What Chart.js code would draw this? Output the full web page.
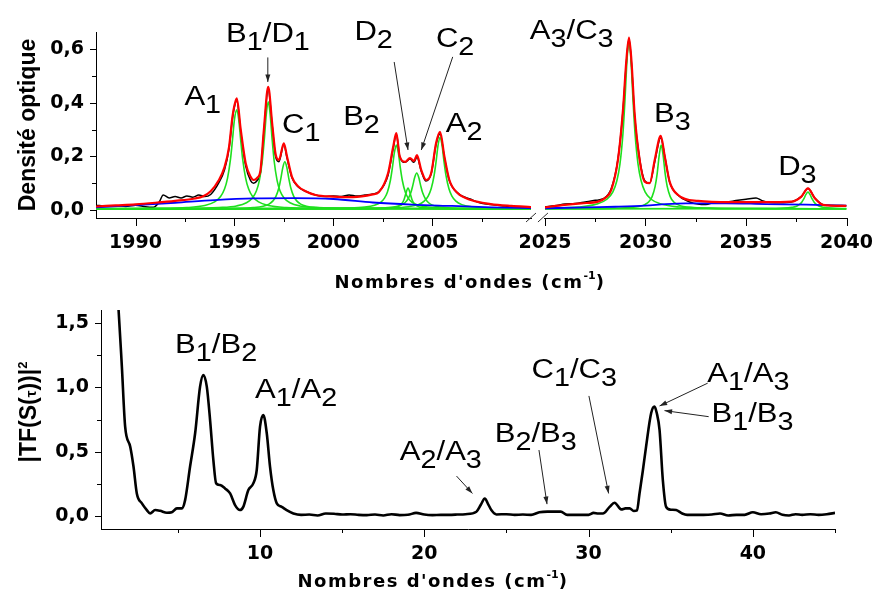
<!DOCTYPE html>
<html><head><meta charset="utf-8">
<script src="https://cdn.jsdelivr.net/npm/chart.js@4.4.1/dist/chart.umd.min.js"></script>
<style>
html,body{margin:0;padding:0;background:#fff;}
#page{position:relative;width:879px;height:590px;overflow:hidden;background:#fff;}
.box{position:absolute;left:0;width:879px;}
.ttl{position:absolute;white-space:nowrap;color:#000;}
.xt{font:bold 18px "DejaVu Sans";letter-spacing:1.5px;line-height:18px;transform:translateX(-50%);}
.yt{font:bold 23px "Liberation Sans";line-height:24px;transform:translate(-50%,-50%) rotate(-90deg);}
.sup{position:relative;top:-9px;font-size:11px;letter-spacing:0;}
</style></head>
<body><div id="page">
<div class="box" style="top:0;height:290px"><canvas id="c1"></canvas></div>
<div class="box" style="top:290px;height:300px"><canvas id="c2"></canvas></div>
<div class="ttl yt" style="left:27px;top:125px">Densité optique</div>
<div class="ttl xt" style="left:470px;top:273px">Nombres d'ondes (cm<span class="sup">-1</span>)</div>
<div class="ttl yt" style="left:30px;top:412px">|TF(S(<span style="font-size:15px">τ</span>))|<span style="position:relative;top:-9px;font-size:13px">2</span></div>
<div class="ttl xt" style="left:433px;top:572px">Nombres d'ondes (cm<span class="sup">-1</span>)</div>
</div>
<script>
// ---------- TOP PANEL DATA (wavenumber, optical density) ----------
const blackLeft = [[1988,0.018],[1988.5,0.014],[1989,0.016],[1989.5,0.013],[1990,0.018],[1990.5,0.012],[1990.9,0.01],[1991.2,0.03],[1991.4,0.056],[1991.7,0.045],[1992,0.05],[1992.3,0.045],[1992.6,0.052],[1992.9,0.048],[1993.2,0.056],[1993.5,0.05],[1993.8,0.058],[1994.2,0.1],[1994.5,0.15],[1994.73,0.23],[1994.9,0.34],[1995.0,0.385],[1995.12,0.41],[1995.32,0.29],[1995.57,0.165],[1995.82,0.11],[1995.97,0.1],[1996.15,0.11],[1996.32,0.14],[1996.49,0.29],[1996.71,0.45],[1996.91,0.315],[1997.08,0.2],[1997.25,0.18],[1997.5,0.245],[1997.66,0.195],[1997.91,0.12],[1998.2,0.088],[1998.6,0.07],[1999.1,0.056],[1999.6,0.05],[2000,0.052],[2000.4,0.05],[2000.8,0.056],[2001.2,0.052],[2001.6,0.056],[2002,0.06],[2002.3,0.068],[2002.77,0.13],[2003.03,0.23],[2003.19,0.283],[2003.36,0.2],[2003.63,0.178],[2003.88,0.19],[2004.08,0.178],[2004.23,0.198],[2004.45,0.145],[2004.68,0.108],[2004.95,0.135],[2005.2,0.245],[2005.4,0.285],[2005.62,0.195],[2005.87,0.11],[2006.29,0.063],[2006.96,0.04],[2007.5,0.025],[2007.96,0.02],[2008.5,0.016],[2009,0.012],[2009.5,0.01],[2010,0.01]];
const redLeft = [[1988,0.013],[1989,0.017],[1990,0.021],[1991,0.027],[1992,0.034],[1993,0.043],[1993.4,0.05],[1993.8,0.07],[1994.2,0.11],[1994.5,0.16],[1994.73,0.236],[1994.9,0.348],[1995.0,0.39],[1995.12,0.417],[1995.32,0.3],[1995.57,0.175],[1995.82,0.124],[1995.97,0.112],[1996.15,0.12],[1996.32,0.149],[1996.49,0.3],[1996.71,0.46],[1996.91,0.323],[1997.08,0.21],[1997.25,0.187],[1997.5,0.249],[1997.66,0.2],[1997.91,0.124],[1998.2,0.09],[1998.6,0.07],[1999.1,0.056],[2000,0.05],[2001,0.048],[2002,0.058],[2002.3,0.066],[2002.77,0.137],[2003.03,0.236],[2003.19,0.287],[2003.36,0.2],[2003.63,0.18],[2003.88,0.194],[2004.08,0.183],[2004.23,0.205],[2004.45,0.149],[2004.7,0.112],[2004.95,0.137],[2005.2,0.25],[2005.4,0.292],[2005.62,0.2],[2005.87,0.112],[2006.29,0.063],[2006.96,0.037],[2007.96,0.022],[2009,0.015],[2010,0.011]];
const blueLeft = [[1988,0.01],[1990,0.018],[1992,0.027],[1994,0.037],[1996,0.043],[1998,0.044],[2000,0.041],[2002,0.028],[2004,0.02],[2006,0.015],[2008,0.01],[2010,0.007]];
const greenA1 = [[1988,0.005],[1991.1,0.006],[1992.6,0.009],[1993.5,0.017],[1994.0,0.03],[1994.3,0.05],[1994.5,0.078],[1994.65,0.118],[1994.8,0.189],[1994.9,0.26],[1995.0,0.337],[1995.12,0.374],[1995.22,0.337],[1995.32,0.26],[1995.42,0.189],[1995.57,0.118],[1995.72,0.078],[1995.92,0.05],[1996.22,0.03],[1996.72,0.017],[1997.62,0.009],[1999.12,0.006],[2003,0.005],[2010,0.004]];
const greenB1 = [[1988,0.005],[1992.71,0.006],[1994.21,0.009],[1995.11,0.015],[1995.61,0.027],[1995.91,0.045],[1996.11,0.071],[1996.26,0.11],[1996.41,0.183],[1996.51,0.262],[1996.61,0.356],[1996.71,0.404],[1996.81,0.356],[1996.91,0.262],[1997.01,0.183],[1997.16,0.11],[1997.31,0.071],[1997.51,0.045],[1997.81,0.027],[1998.31,0.015],[1999.21,0.009],[2000.71,0.006],[2010,0.004]];
const greenC1 = [[1988,0.004],[1993.55,0.005],[1995.05,0.006],[1995.95,0.009],[1996.45,0.014],[1996.75,0.022],[1996.95,0.034],[1997.1,0.051],[1997.25,0.083],[1997.35,0.118],[1997.45,0.159],[1997.55,0.18],[1997.65,0.159],[1997.75,0.118],[1997.85,0.083],[1998.0,0.051],[1998.15,0.034],[1998.35,0.022],[1998.65,0.014],[1999.15,0.009],[2000.05,0.006],[2001.55,0.005],[2010,0.004]];
const greenB2 = [[1988,0.004],[1999.19,0.005],[2000.69,0.007],[2001.59,0.011],[2002.09,0.018],[2002.39,0.028],[2002.59,0.044],[2002.74,0.067],[2002.89,0.111],[2002.99,0.158],[2003.09,0.214],[2003.19,0.243],[2003.29,0.214],[2003.39,0.158],[2003.49,0.111],[2003.64,0.067],[2003.79,0.044],[2003.99,0.028],[2004.29,0.018],[2004.79,0.011],[2005.69,0.007],[2007.19,0.005],[2010,0.004]];
const greenD2 = [[1988,0.004],[2001.78,0.005],[2002.58,0.006],[2002.98,0.008],[2003.18,0.01],[2003.33,0.015],[2003.48,0.025],[2003.58,0.039],[2003.68,0.064],[2003.78,0.082],[2003.88,0.064],[2003.98,0.039],[2004.08,0.025],[2004.23,0.015],[2004.38,0.01],[2004.58,0.008],[2004.98,0.006],[2005.78,0.005],[2010,0.004]];
const greenC2 = [[1988,0.004],[2000.22,0.005],[2001.72,0.006],[2002.62,0.008],[2003.12,0.012],[2003.42,0.018],[2003.62,0.027],[2003.77,0.04],[2003.92,0.064],[2004.02,0.091],[2004.12,0.122],[2004.22,0.138],[2004.32,0.122],[2004.42,0.091],[2004.52,0.064],[2004.67,0.04],[2004.82,0.027],[2005.02,0.018],[2005.32,0.012],[2005.82,0.008],[2006.72,0.006],[2008.22,0.005],[2010,0.004]];
const greenA2 = [[1988,0.004],[2001.4,0.005],[2002.9,0.007],[2003.8,0.012],[2004.3,0.02],[2004.6,0.033],[2004.8,0.052],[2004.95,0.079],[2005.1,0.129],[2005.2,0.181],[2005.3,0.242],[2005.4,0.272],[2005.5,0.242],[2005.6,0.181],[2005.7,0.129],[2005.85,0.079],[2006.0,0.052],[2006.2,0.033],[2006.5,0.02],[2007.0,0.012],[2007.9,0.007],[2009.4,0.005],[2010,0.004]];
const blackRight = [[2025,0.012],[2025.5,0.016],[2026,0.022],[2026.5,0.024],[2027,0.03],[2027.5,0.036],[2027.9,0.042],[2028.3,0.08],[2028.63,0.19],[2028.88,0.37],[2029.05,0.55],[2029.18,0.64],[2029.3,0.55],[2029.46,0.35],[2029.71,0.19],[2029.96,0.11],[2030.21,0.1],[2030.46,0.18],[2030.76,0.27],[2030.96,0.2],[2031.2,0.105],[2031.62,0.055],[2032.2,0.03],[2032.6,0.022],[2033,0.02],[2033.5,0.03],[2034,0.03],[2034.5,0.035],[2035,0.04],[2035.5,0.045],[2035.8,0.035],[2036.2,0.028],[2036.7,0.027],[2037.25,0.03],[2037.75,0.05],[2038.08,0.08],[2038.42,0.045],[2038.83,0.02],[2039.3,0.017],[2040,0.016]];
const redRight = [[2025,0.01],[2025.98,0.019],[2026.8,0.025],[2027.64,0.031],[2028.0,0.045],[2028.3,0.075],[2028.63,0.187],[2028.88,0.373],[2029.05,0.56],[2029.18,0.644],[2029.3,0.56],[2029.46,0.36],[2029.71,0.187],[2029.96,0.106],[2030.21,0.1],[2030.46,0.187],[2030.76,0.277],[2030.96,0.2],[2031.2,0.106],[2031.62,0.056],[2032.61,0.034],[2034.27,0.029],[2035.93,0.029],[2037.25,0.031],[2037.75,0.05],[2038.08,0.081],[2038.42,0.044],[2038.83,0.019],[2040,0.015]];
const blueRight = [[2025,0.006],[2027,0.01],[2028.5,0.012],[2030,0.016],[2031,0.022],[2032,0.025],[2034,0.025],[2036,0.022],[2038,0.02],[2040,0.016]];
const greenA3 = [[2025,0.007],[2026.68,0.011],[2027.58,0.022],[2028.08,0.04],[2028.38,0.068],[2028.58,0.11],[2028.73,0.171],[2028.88,0.286],[2028.98,0.411],[2029.08,0.558],[2029.18,0.634],[2029.28,0.558],[2029.38,0.411],[2029.48,0.286],[2029.63,0.171],[2029.78,0.11],[2029.98,0.068],[2030.28,0.04],[2030.78,0.022],[2031.68,0.011],[2033.18,0.007],[2036,0.005],[2040,0.004]];
const greenB3 = [[2025,0.004],[2026.78,0.005],[2028.28,0.006],[2029.18,0.009],[2029.68,0.013],[2029.98,0.021],[2030.18,0.032],[2030.33,0.05],[2030.48,0.088],[2030.58,0.135],[2030.68,0.202],[2030.78,0.243],[2030.88,0.202],[2030.98,0.135],[2031.08,0.088],[2031.23,0.05],[2031.38,0.032],[2031.58,0.021],[2031.88,0.013],[2032.38,0.009],[2033.28,0.006],[2034.78,0.005],[2040,0.004]];
const greenD3 = [[2025,0.004],[2036.08,0.005],[2036.88,0.007],[2037.28,0.01],[2037.48,0.013],[2037.63,0.019],[2037.78,0.03],[2037.88,0.042],[2037.98,0.058],[2038.08,0.067],[2038.18,0.058],[2038.28,0.042],[2038.38,0.03],[2038.53,0.019],[2038.68,0.013],[2038.88,0.01],[2039.28,0.007],[2040,0.005]];

// ---------- BOTTOM PANEL DATA ----------
const bottomX = [1.3,1.39,1.59,1.79,2.1,2.3,2.5,2.81,3.11,3.31,3.62,3.92,4.33,4.63,4.94,5.24,5.44,5.74,6.05,6.35,6.55,6.76,6.96,7.16,7.33,7.57,7.87,8.18,8.48,8.78,8.98,9.29,9.59,9.8,10.0,10.2,10.41,10.61,10.81,11.02,11.32,11.62,12.03,12.5,13,13.5,14,14.5,15,15.5,16,16.5,17,17.5,18,18.5,19,19.5,20,20.5,21,21.5,22,22.5,23.17,23.45,23.68,23.9,24.08,24.39,25,25.5,26,26.5,27,27.5,28,28.3,28.7,29,29.5,30,30.3,30.6,30.87,31.28,31.58,31.99,32.25,32.5,32.75,32.95,33.1,33.3,33.5,33.81,34.01,34.15,34.32,34.52,34.72,35.0,35.33,35.7,36,36.5,37,37.5,38,38.5,39,39.5,40,40.5,41,41.4,41.8,42.2,42.6,43,43.5,44,44.5,45];
const bottomY = [1.75,1.6,1.161,0.694,0.539,0.383,0.176,0.099,0.047,0.021,0.047,0.041,0.026,0.03,0.06,0.06,0.124,0.383,0.643,1.005,1.096,1.005,0.746,0.435,0.254,0.241,0.215,0.176,0.086,0.047,0.072,0.202,0.254,0.358,0.694,0.785,0.643,0.383,0.202,0.099,0.072,0.047,0.021,0.01,0.012,0.005,0.02,0.018,0.012,0.015,0.01,0.008,0.012,0.005,0.015,0.008,0.01,0.025,0.012,0.008,0.01,0.01,0.012,0.015,0.034,0.09,0.137,0.09,0.047,0.013,0.015,0.01,0.012,0.01,0.03,0.035,0.035,0.035,0.01,0.01,0.01,0.01,0.025,0.02,0.02,0.072,0.104,0.052,0.06,0.06,0.04,0.045,0.176,0.35,0.54,0.8,0.85,0.8,0.669,0.28,0.072,0.05,0.047,0.02,0.01,0.01,0.01,0.012,0.02,0.005,0.01,0.01,0.03,0.015,0.02,0.03,0.01,0.005,0.015,0.01,0.015,0.01,0.015,0.025];

// ---------- TICKS ----------
const topXTicksLeft = [1990,1995,2000,2005];
const topXMinorLeft = [1992.5,1997.5,2002.5,2007.5];
const topXTicksRight = [2025,2030,2035,2040];
const topXMinorRight = [2027.5,2032.5,2037.5];
const topYTicks = [0,0.2,0.4,0.6];
const topYMinor = [0.1,0.3,0.5];
const botXTicks = [10,20,30,40];
const botXMinor = [5,15,25,35,45];
const botYTicks = [0,0.5,1,1.5];
const botYMinor = [0.25,0.75,1.25];

// ---------- ANNOTATIONS (data coordinates) ----------
const topLabels = [
  {text:'A1', axis:'xL', x:1992.47, y:0.392},
  {text:'B1/D1', axis:'xL', x:1994.58, y:0.627},
  {text:'C1', axis:'xL', x:1997.41, y:0.287},
  {text:'B2', axis:'xL', x:2000.5, y:0.317},
  {text:'D2', axis:'xL', x:2001.07, y:0.634},
  {text:'C2', axis:'xL', x:2005.19, y:0.608},
  {text:'A2', axis:'xL', x:2005.69, y:0.291},
  {text:'A3/C3', axis:'xR', x:2024.25, y:0.638},
  {text:'B3', axis:'xR', x:2030.42, y:0.328},
  {text:'D3', axis:'xR', x:2036.6, y:0.13}
];
const topArrows = [
  {axis:'xL', x1:1996.69, y1:0.57, x2:1996.69, y2:0.478},
  {axis:'xL', x1:2003.08, y1:0.553, x2:2003.78, y2:0.224},
  {axis:'xL', x1:2006.04, y1:0.572, x2:2004.45, y2:0.224}
];
const botLabels = [
  {text:'B1/B2', axis:'x', x:4.83, y:1.27},
  {text:'A1/A2', axis:'x', x:9.7, y:0.918},
  {text:'A2/A3', axis:'x', x:18.51, y:0.435},
  {text:'B2/B3', axis:'x', x:24.29, y:0.575},
  {text:'C1/C3', axis:'x', x:26.53, y:1.073},
  {text:'A1/A3', axis:'x', x:37.23, y:1.042},
  {text:'B1/B3', axis:'x', x:37.48, y:0.731}
];
const botArrows = [
  {axis:'x', x1:21.96, y1:0.311, x2:22.93, y2:0.176},
  {axis:'x', x1:26.98, y1:0.513, x2:27.47, y2:0.093},
  {axis:'x', x1:30.02, y1:0.933, x2:31.22, y2:0.176},
  {axis:'x', x1:37.25, y1:1.032, x2:34.32, y2:0.855},
  {axis:'x', x1:37.31, y1:0.772, x2:34.62, y2:0.819}
];

// ---------- helpers ----------
const RED='#ff0000', GREEN='#1ee01e', BLUE='#0000ff', BLACK='#000000';
const tickFont = {family:'DejaVu Sans', size:19, weight:'bold'};
const comma = v => Number(v).toFixed(1).replace('.', ',');
const pts = arr => arr.map(p => ({x:p[0], y:p[1]}));
function ds(arr, axis, color, w){
  return {data:pts(arr), xAxisID:axis, borderColor:color, borderWidth:w, pointRadius:0,
    cubicInterpolationMode:'monotone', fill:false, borderJoinStyle:'round'};
}
function drawLabel(ctx, text, px, py){
  ctx.save();
  ctx.translate(px, py);
  ctx.scale(1.15, 1);
  ctx.fillStyle = '#000';
  ctx.textBaseline = 'alphabetic';
  ctx.textAlign = 'left';
  let x = 0;
  for (const ch of text){
    const sub = /\d/.test(ch);
    ctx.font = sub ? '25px "Liberation Sans"' : '27px "Liberation Sans"';
    ctx.fillText(ch, x, sub ? 8 : 0);
    x += ctx.measureText(ch).width;
  }
  ctx.restore();
}
function drawArrow(ctx, x1, y1, x2, y2){
  ctx.save();
  ctx.strokeStyle = '#222'; ctx.fillStyle = '#222'; ctx.lineWidth = 1;
  ctx.beginPath(); ctx.moveTo(x1, y1); ctx.lineTo(x2, y2); ctx.stroke();
  const a = Math.atan2(y2 - y1, x2 - x1), L = 8, s = 0.32;
  ctx.beginPath();
  ctx.moveTo(x2, y2);
  ctx.lineTo(x2 - L*Math.cos(a - s), y2 - L*Math.sin(a - s));
  ctx.lineTo(x2 - L*Math.cos(a + s), y2 - L*Math.sin(a + s));
  ctx.closePath(); ctx.fill();
  ctx.restore();
}
function annotPlugin(labels, arrows){
  return {id:'annot', afterDraw(chart){
    const ctx = chart.ctx, ys = chart.scales.y;
    arrows.forEach(a => {
      const xs = chart.scales[a.axis];
      drawArrow(ctx, xs.getPixelForValue(a.x1), ys.getPixelForValue(a.y1), xs.getPixelForValue(a.x2), ys.getPixelForValue(a.y2));
    });
    labels.forEach(l => {
      const xs = chart.scales[l.axis];
      drawLabel(ctx, l.text, xs.getPixelForValue(l.x), ys.getPixelForValue(l.y));
    });
  }};
}
function tickPlugin(spec){
  return {id:'tickmarks', afterDraw(chart){
    const ctx = chart.ctx;
    ctx.save(); ctx.strokeStyle = '#000'; ctx.lineWidth = 1;
    spec.forEach(s => {
      const sc = chart.scales[s.axis];
      const draw = (vals, len) => vals.forEach(v => {
        const p = Math.round(sc.getPixelForValue(v)) + 0.5;
        ctx.beginPath();
        if (s.axis.startsWith('x')) { ctx.moveTo(p, sc.top); ctx.lineTo(p, sc.top + len); }
        else { ctx.moveTo(sc.right - len, p); ctx.lineTo(sc.right, p); }
        ctx.stroke();
      });
      draw(s.major, s.majLen); draw(s.minor, s.minLen);
    });
    ctx.restore();
  }};
}
const breakPlugin = {id:'axisbreak', afterDraw(chart){
  const g = chart.scales.xGap, yb = chart.chartArea.bottom, ctx = chart.ctx;
  ctx.save(); ctx.strokeStyle = '#333'; ctx.lineWidth = 1;
  ctx.beginPath();
  ctx.moveTo(g.left - 5, yb + 4); ctx.lineTo(g.left + 5, yb - 5);
  ctx.moveTo(g.right - 7, yb + 4); ctx.lineTo(g.right + 3, yb - 5);
  ctx.stroke(); ctx.restore();
}};
function xScale(min, max, weight, ticks, height){
  return {type:'linear', position:'bottom', stack:'bottomX', stackWeight:weight, min, max,
    afterBuildTicks: s => { s.ticks = ticks.map(v => ({value:v})); },
    afterFit: s => { s.height = height; },
    ticks:{font:tickFont, color:'#000', padding:6, maxRotation:0, autoSkip:false, callback: v => String(v)},
    grid:{display:false, drawTicks:true, tickLength:8},
    border:{display:true, color:'#000', width:1}};
}

Chart.defaults.font.family = 'DejaVu Sans';

// ---------- TOP CHART ----------
new Chart(document.getElementById('c1'), {
  type:'line',
  data:{datasets:[
    ds(redLeft,'xL',RED,2.2), ds(redRight,'xR',RED,2.2),
    ds(blueLeft,'xL',BLUE,1.8), ds(blueRight,'xR',BLUE,1.8),
    ds(greenA1,'xL',GREEN,1.6), ds(greenB1,'xL',GREEN,1.6), ds(greenC1,'xL',GREEN,1.6),
    ds(greenB2,'xL',GREEN,1.6), ds(greenD2,'xL',GREEN,1.6), ds(greenC2,'xL',GREEN,1.6), ds(greenA2,'xL',GREEN,1.6),
    ds(greenA3,'xR',GREEN,1.6), ds(greenB3,'xR',GREEN,1.6), ds(greenD3,'xR',GREEN,1.6),
    ds(blackLeft,'xL',BLACK,1.5), ds(blackRight,'xR',BLACK,1.5)
  ]},
  options:{
    responsive:true, maintainAspectRatio:false, animation:false, devicePixelRatio:1,
    layout:{padding:{left:0, top:32, right:29, bottom:0}},
    plugins:{legend:{display:false}, tooltip:{enabled:false}},
    scales:{
      xL: xScale(1988, 2010, 437, topXTicksLeft, 72),
      xGap: {type:'linear', position:'bottom', stack:'bottomX', stackWeight:14, min:0, max:1,
        afterFit: s => { s.height = 72; },
        ticks:{display:false}, grid:{display:false}, border:{display:false}},
      xR: xScale(2025, 2040, 303, topXTicksRight, 72),
      y:{type:'linear', position:'left', min:-0.03, max:0.665,
        afterBuildTicks: s => { s.ticks = topYTicks.map(v => ({value:v})); },
        afterFit: s => { s.width = 96; },
        ticks:{font:tickFont, color:'#000', padding:6, callback: comma},
        grid:{display:false, drawTicks:true, tickLength:6},
        border:{display:true, color:'#000', width:1}}
    }
  },
  plugins:[
    tickPlugin([
      {axis:'xL', major:topXTicksLeft, minor:topXMinorLeft, majLen:8, minLen:4},
      {axis:'xR', major:topXTicksRight, minor:topXMinorRight, majLen:8, minLen:4},
      {axis:'y', major:topYTicks, minor:topYMinor, majLen:6, minLen:4}
    ]),
    breakPlugin,
    annotPlugin(topLabels, topArrows)
  ]
});

// ---------- BOTTOM CHART ----------
new Chart(document.getElementById('c2'), {
  type:'line',
  data:{datasets:[{
    data: bottomX.map((x, i) => ({x, y: bottomY[i]})),
    borderColor:BLACK, borderWidth:2.6, pointRadius:0, cubicInterpolationMode:'monotone',
    borderJoinStyle:'round', fill:false
  }]},
  options:{
    responsive:true, maintainAspectRatio:false, animation:false, devicePixelRatio:1,
    layout:{padding:{left:0, top:20, right:44, bottom:0}},
    plugins:{legend:{display:false}, tooltip:{enabled:false}},
    scales:{
      x:{type:'linear', position:'bottom', min:0.32, max:45,
        afterBuildTicks: s => { s.ticks = botXTicks.map(v => ({value:v})); },
        afterFit: s => { s.height = 61; },
        ticks:{font:tickFont, color:'#000', padding:6, maxRotation:0, autoSkip:false, callback: v => String(v)},
        grid:{display:false, drawTicks:true, tickLength:8},
        border:{display:true, color:'#000', width:1}},
      y:{type:'linear', position:'left', min:-0.1, max:1.6,
        afterBuildTicks: s => { s.ticks = botYTicks.map(v => ({value:v})); },
        afterFit: s => { s.width = 101; },
        ticks:{font:tickFont, color:'#000', padding:6, callback: comma},
        grid:{display:false, drawTicks:true, tickLength:6},
        border:{display:true, color:'#000', width:1}}
    }
  },
  plugins:[
    tickPlugin([
      {axis:'x', major:botXTicks, minor:botXMinor, majLen:8, minLen:4},
      {axis:'y', major:botYTicks, minor:botYMinor, majLen:6, minLen:4}
    ]),
    annotPlugin(botLabels, botArrows)
  ]
});
</script>
</body></html>
